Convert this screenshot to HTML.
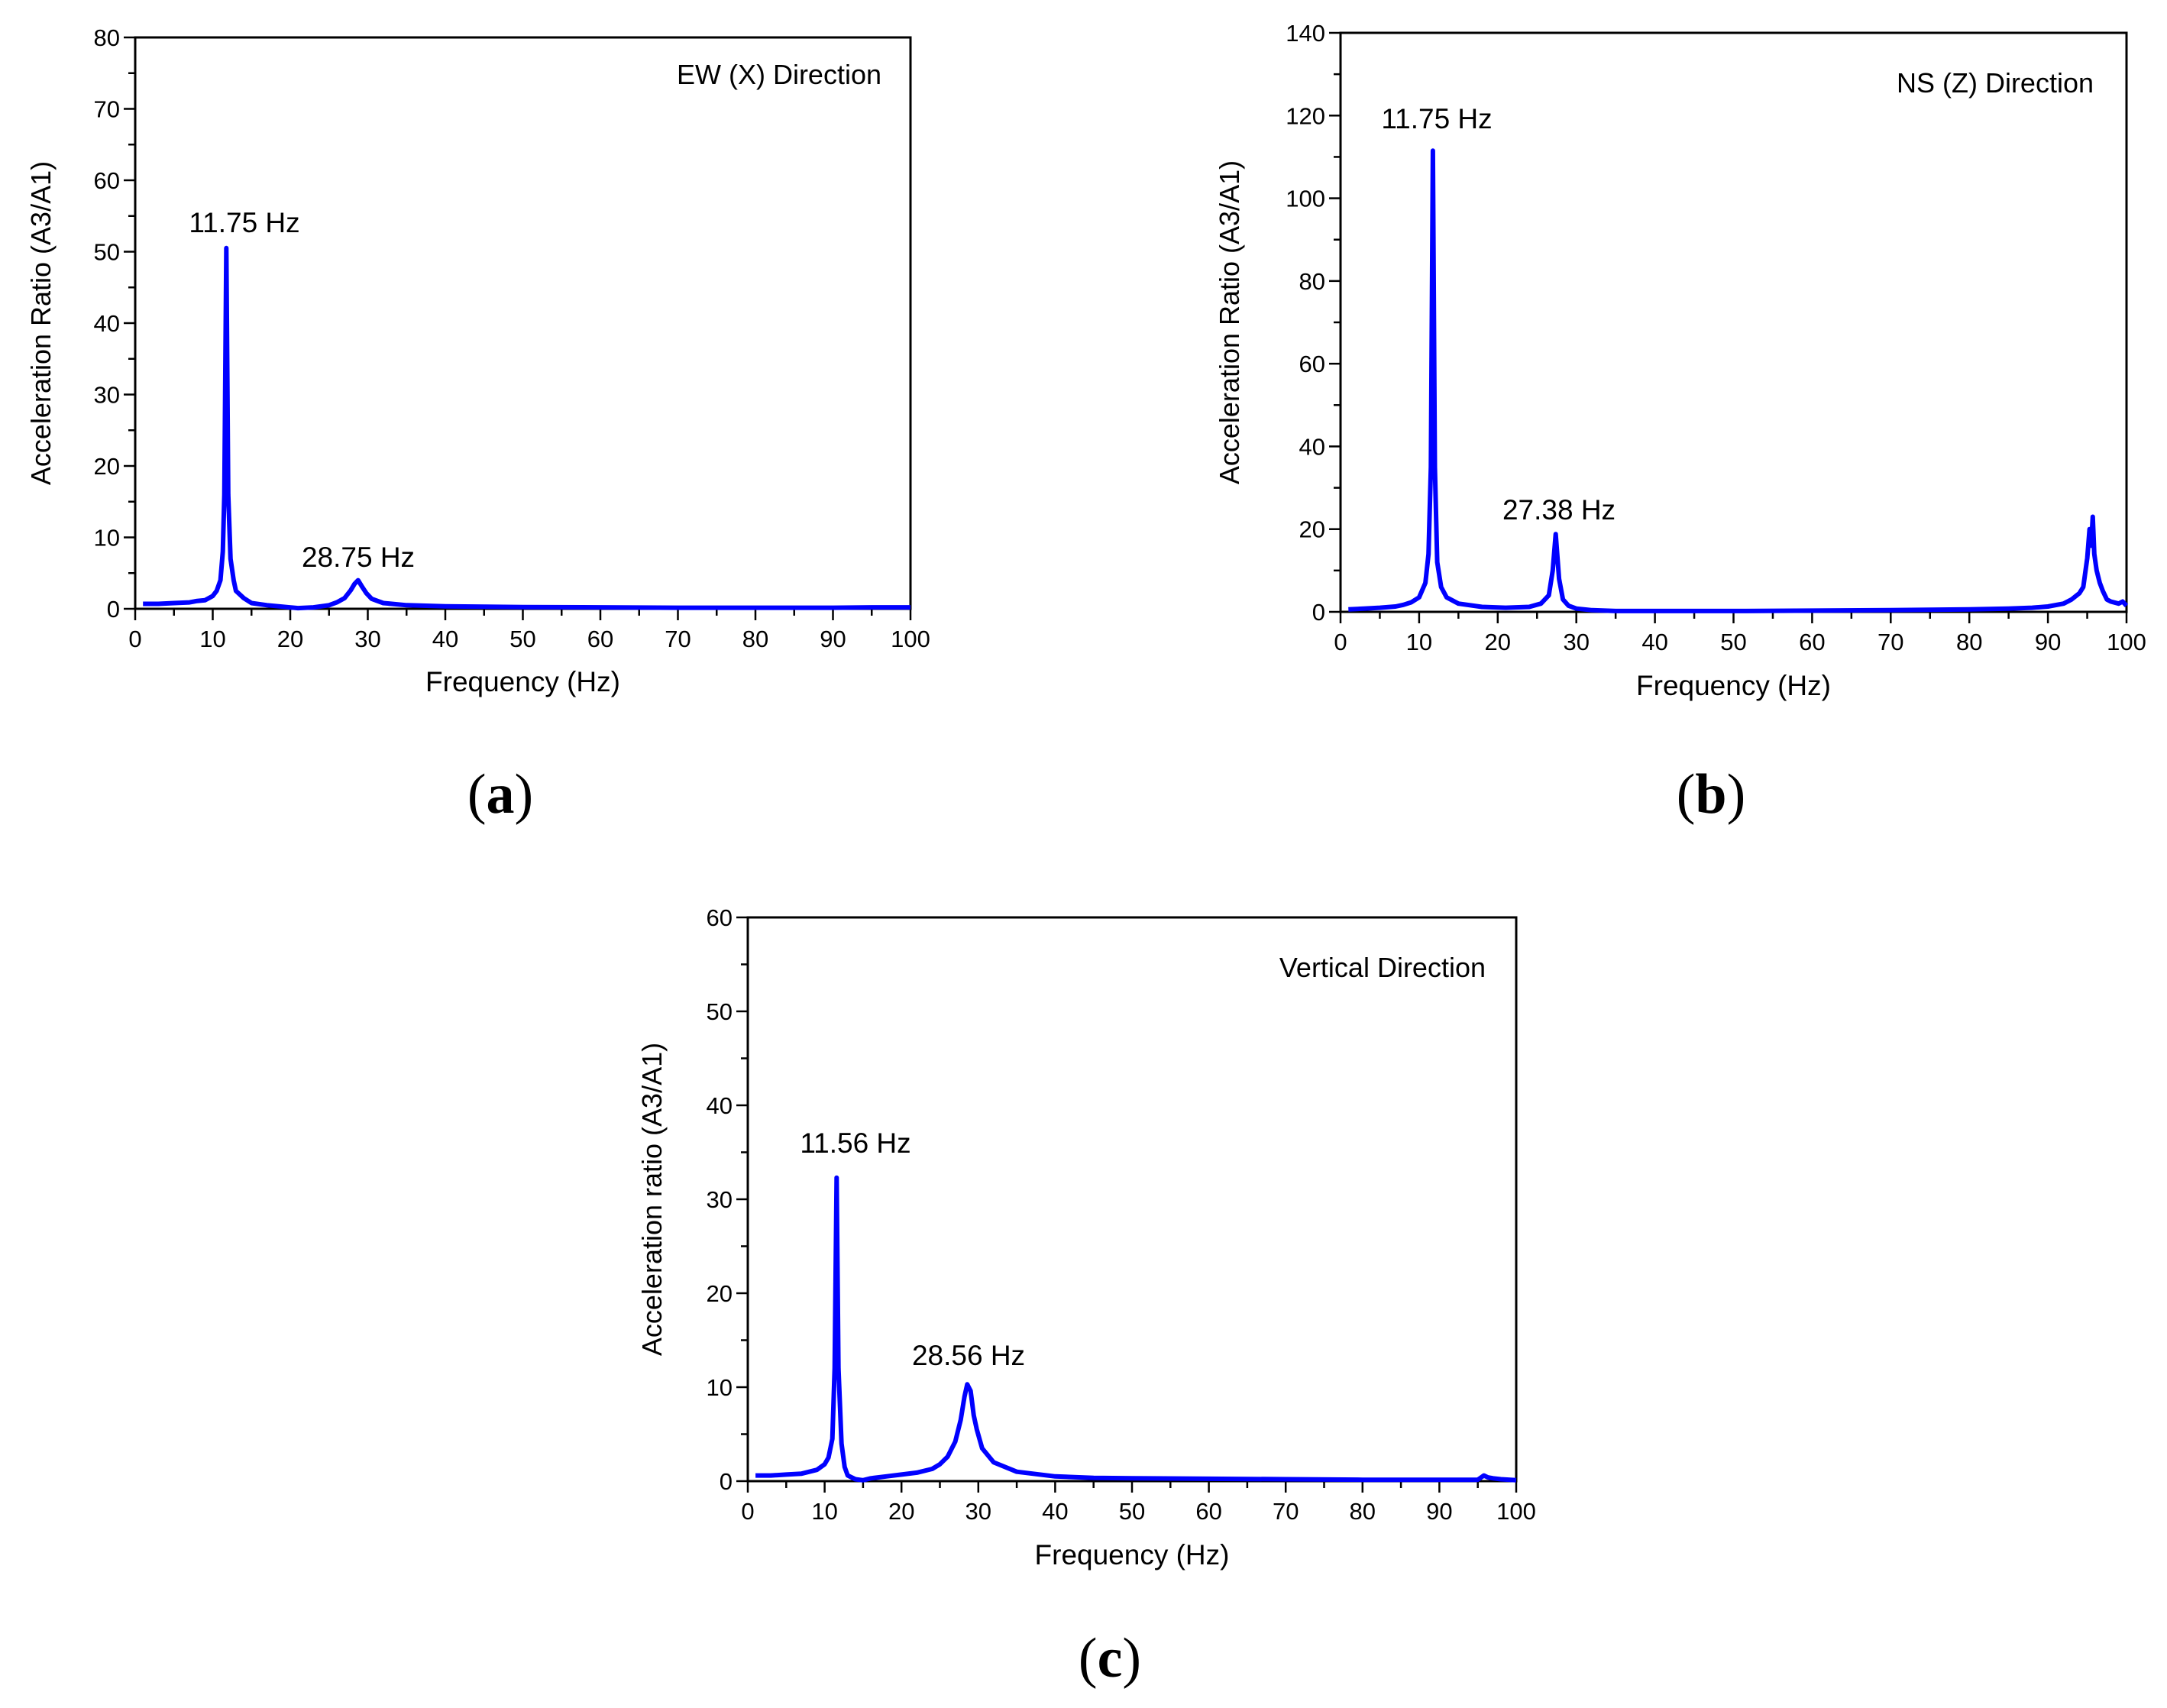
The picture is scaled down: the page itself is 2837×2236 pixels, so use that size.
<!DOCTYPE html>
<html><head><meta charset="utf-8"><style>
html,body{margin:0;padding:0;background:#fff;}
svg{display:block;}
</style></head><body>
<svg id="fig" xmlns="http://www.w3.org/2000/svg" width="2837" height="2236" viewBox="0 0 2837 2236" font-family="Liberation Sans, sans-serif"></svg>
<script>
// Panel (a) EW (X)
const freqA = [1,3,5,7,8,9,10,10.5,11,11.3,11.5,11.75,12,12.3,12.7,13,14,15,17,19,21,23,25,26,27,27.8,28.3,28.75,29.2,29.8,30.5,32,35,40,45,50,60,70,80,90,95,100];
const valsA = [0.7,0.7,0.8,0.9,1.1,1.2,1.8,2.5,4,8,16,50.5,16,7,4,2.5,1.5,0.8,0.5,0.3,0.1,0.2,0.5,0.9,1.5,2.6,3.5,4.0,3.2,2.2,1.4,0.8,0.5,0.35,0.3,0.25,0.2,0.15,0.15,0.15,0.2,0.2];
// Panel (b) NS (Z)
const freqB = [1,3,5,7,8,9,10,10.8,11.2,11.5,11.75,12,12.3,12.8,13.5,15,18,21,24,25.5,26.5,27,27.38,27.8,28.3,29,30,32,35,40,50,60,70,80,85,88,90,92,93,94,94.5,95,95.3,95.5,95.7,95.9,96.2,96.6,97,97.5,98,99,99.5,100];
const valsB = [0.6,0.8,1.0,1.3,1.7,2.3,3.5,7,14,35,111.5,35,12,6,3.5,2,1.2,1.0,1.2,2.0,4,10,18.8,8,3,1.5,0.8,0.4,0.2,0.2,0.2,0.3,0.4,0.6,0.8,1.0,1.3,2,3,4.5,6,13,20,16,23,14,10,7,5,3,2.5,2,2.5,1.5];
// Panel (c) Vertical
const freqC = [1,3,5,7,8,9,10,10.5,11,11.3,11.56,11.8,12.2,12.6,13,14,15,16,18,20,22,24,25,26,27,27.7,28.2,28.56,29,29.4,29.8,30.5,32,35,40,45,50,60,70,80,90,95,95.8,96.3,97,98,100];
const valsC = [0.6,0.6,0.7,0.8,1.0,1.2,1.8,2.5,4.5,12,32.3,12,4,1.5,0.6,0.2,0.1,0.3,0.5,0.7,0.9,1.3,1.8,2.6,4.2,6.5,9,10.3,9.6,7,5.5,3.5,2.0,1.0,0.5,0.35,0.3,0.25,0.2,0.15,0.15,0.15,0.6,0.4,0.3,0.2,0.1];

const xTicks = [0,10,20,30,40,50,60,70,80,90,100];
const yTicksA = [0,10,20,30,40,50,60,70,80];
const yTicksB = [0,20,40,60,80,100,120,140];
const yTicksC = [0,10,20,30,40,50,60];

const NS='http://www.w3.org/2000/svg';
const svg=document.getElementById('fig');
function mk(tag,attrs,parent,text){const e=document.createElementNS(NS,tag);for(const k in attrs)e.setAttribute(k,attrs[k]);if(text!==undefined)e.textContent=text;(parent||svg).appendChild(e);return e;}

function panel(id,box,ymax,yTicks,yMinorStep,freq,vals,ytitle,ytx,direction,dirPos,annots,xtitleY,label,labelPos){
  const g=mk('g',{});
  
  
  const sx=v=>box.x0+(box.x1-box.x0)*v/100;
  const sy=v=>box.y0-(box.y0-box.y1)*v/ymax;
  const frame=mk('rect',{x:box.x0,y:box.y1,width:box.x1-box.x0,height:box.y0-box.y1,fill:'none',stroke:'#000','stroke-width':3},g);
  
  
  for(let v=0;v<=100;v+=5){const major=v%10===0;mk('line',{x1:sx(v),x2:sx(v),y1:box.y0,y2:box.y0+(major?15:9),stroke:'#000','stroke-width':2.5},g);}
  xTicks.forEach(v=>{const t=mk('text',{x:sx(v),y:box.y0+50,'font-size':31,'text-anchor':'middle'},g,String(v));
    
    });
  for(let v=0;v<=ymax+1e-9;v+=yMinorStep){const major=yTicks.some(t=>Math.abs(t-v)<1e-6);mk('line',{x1:box.x0-(major?15:9),x2:box.x0,y1:sy(v),y2:sy(v),stroke:'#000','stroke-width':2.5},g);}
  yTicks.forEach(v=>{const t=mk('text',{x:box.x0-20,y:sy(v)+11,'font-size':31,'text-anchor':'end'},g,String(v));
    
    });
  let d='';freq.forEach((f,i)=>{d+=(i?'L':'M')+sx(f).toFixed(1)+','+sy(vals[i]).toFixed(1);});
  const p=mk('path',{d:d,fill:'none',stroke:'#0000ff','stroke-width':6,'stroke-linejoin':'round'},g);
  
  
  const yc=(box.y0+box.y1)/2;
  const yt=mk('text',{x:ytx,y:yc,'font-size':36,'text-anchor':'middle',transform:'rotate(-90 '+ytx+' '+yc+')'},g,ytitle);
  
  
  const xt=mk('text',{x:(box.x0+box.x1)/2,y:xtitleY,'font-size':37,'text-anchor':'middle'},g,'Frequency (Hz)');
  
  
  const dt=mk('text',{x:dirPos[0],y:dirPos[1],'font-size':36,'text-anchor':'end'},g,direction);
  
  
  annots.forEach(a=>{const t=mk('text',{x:a[0],y:a[1],'font-size':37,'text-anchor':'middle'},g,a[2]);
    
    });
  const lt=mk('text',{x:labelPos[0],y:labelPos[1],'font-size':74,'text-anchor':'middle','font-family':'Liberation Serif, serif'},g);
  
  
  mk('tspan',{},lt,'(');mk('tspan',{'font-weight':'bold'},lt,label);mk('tspan',{},lt,')');
}

panel('a',{x0:177,x1:1192,y0:797,y1:49},80,yTicksA,5,freqA,valsA,'Acceleration Ratio (A3/A1)',66,'EW (X) Direction',[1154,110],[[320,304,'11.75 Hz'],[469,742,'28.75 Hz']],905,'a',[655,1064]);
panel('b',{x0:1755,x1:2784,y0:801,y1:43},140,yTicksB,10,freqB,valsB,'Acceleration Ratio (A3/A1)',1622,'NS (Z) Direction',[2741,121],[[1881,168,'11.75 Hz'],[2041,680,'27.38 Hz']],910,'b',[2240,1064]);
panel('c',{x0:979,x1:1985,y0:1939,y1:1201},60,yTicksC,5,freqC,valsC,'Acceleration ratio (A3/A1)',866,'Vertical Direction',[1945,1279],[[1120,1509,'11.56 Hz'],[1268,1787,'28.56 Hz']],2048,'c',[1453,2195]);
</script>
</body></html>
